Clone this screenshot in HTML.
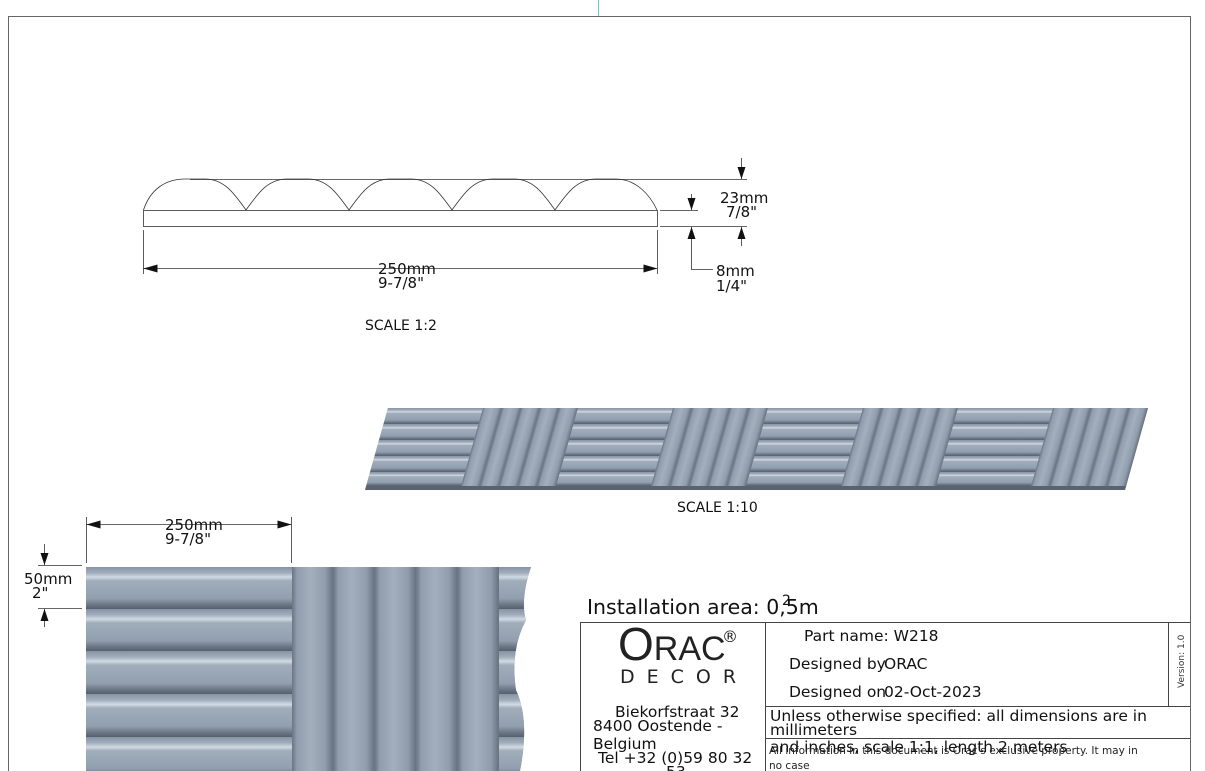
<!DOCTYPE html>
<html><head><meta charset="utf-8"><style>
html,body{margin:0;padding:0;background:#fff;}
svg{display:block;font-family:"DejaVu Sans","Liberation Sans",sans-serif;}
</style></head><body>
<svg width="1205" height="771" viewBox="0 0 1205 771" xmlns="http://www.w3.org/2000/svg">
<defs>
<linearGradient id="hr" x1="0" y1="0" x2="0" y2="1">
<stop offset="0" stop-color="#8794a4"/><stop offset="0.14" stop-color="#a0adbb"/><stop offset="0.24" stop-color="#d2dae3"/><stop offset="0.33" stop-color="#a0adbb"/><stop offset="0.75" stop-color="#929fae"/><stop offset="0.9" stop-color="#6b7684"/><stop offset="1" stop-color="#57616d"/>
</linearGradient>
<linearGradient id="vr" x1="0" y1="0" x2="1" y2="0">
<stop offset="0" stop-color="#6a7583"/><stop offset="0.12" stop-color="#909dad"/><stop offset="0.45" stop-color="#a3afbd"/><stop offset="0.8" stop-color="#909dac"/><stop offset="1" stop-color="#66717e"/>
</linearGradient>
<clipPath id="cw"><path d="M86,567 H531 Q520,600 526,620 Q510,650 516,690 Q530,720 520,771 H86 Z"/></clipPath>
</defs>

<line x1="598.5" y1="0" x2="598.5" y2="17" stroke="#6cc" stroke-width="1"/>
<path d="M8.5,771 V16.5 H1190.5 V771" fill="none" stroke="#666" stroke-width="1"/>

<g fill="none" stroke="#333" stroke-width="0.8">
<rect x="143.5" y="210.5" width="514" height="16"/>
<path d="M143.5,210 C150,190 165,179 185,179 L205,179 C225,179 235,195 246,210 C257,195 267,179 287,179 L308,179 C328,179 338,195 349,210 C360,195 370,179 390,179 L411,179 C431,179 441,195 452,210 C463,195 473,179 493,179 L514,179 C534,179 544,195 555,210 C566,195 576,179 596,179 L616,179 C636,179 650,195 657,210"/>
</g>
<g stroke="#333" stroke-width="0.8" fill="none">
<line x1="190" y1="179.5" x2="747" y2="179.5"/>
<line x1="660" y1="210.5" x2="698" y2="210.5"/>
<line x1="660" y1="226.5" x2="747" y2="226.5"/>
<line x1="741.5" y1="158" x2="741.5" y2="179"/>
<line x1="741.5" y1="227" x2="741.5" y2="246"/>
<line x1="691.5" y1="194" x2="691.5" y2="210"/>
<path d="M691.5,227 V269.5 H713"/>
<line x1="143.5" y1="230" x2="143.5" y2="274"/>
<line x1="657.5" y1="230" x2="657.5" y2="274"/>
<line x1="143" y1="268.5" x2="657" y2="268.5"/>
<line x1="86.5" y1="517" x2="86.5" y2="563"/>
<line x1="291.5" y1="517" x2="291.5" y2="563"/>
<line x1="86" y1="524.5" x2="291" y2="524.5"/>
<line x1="38" y1="565.5" x2="82" y2="565.5"/>
<line x1="38" y1="608.5" x2="82" y2="608.5"/>
<line x1="44.5" y1="544" x2="44.5" y2="565"/>
<line x1="44.5" y1="609" x2="44.5" y2="627"/>
</g>
<g fill="#111">
<path d="M741.5,179 l-4,-12 h8 z"/><path d="M741.5,227 l-4,12 h8 z"/>
<path d="M691.5,210 l-4,-12 h8 z"/><path d="M691.5,227 l-4,12 h8 z"/>
<path d="M143.5,268.5 l14,-4 v8 z"/><path d="M657.5,268.5 l-14,-4 v8 z"/>
<path d="M86.5,524.5 l14,-4 v8 z"/><path d="M291.5,524.5 l-14,-4 v8 z"/>
<path d="M44.5,565 l-4,-12 h8 z"/><path d="M44.5,609 l-4,12 h8 z"/>
</g>
<g font-size="15" fill="#111">
<text x="720" y="203">23mm</text><text x="726" y="217">7/8"</text>
<text x="716" y="276">8mm</text><text x="716" y="291">1/4"</text>
<text x="378" y="274">250mm</text><text x="378" y="288">9-7/8"</text>
<text x="165" y="530">250mm</text><text x="165" y="544">9-7/8"</text>
<text x="24" y="584">50mm</text><text x="32" y="598">2"</text>
</g>
<g font-size="14" fill="#111">
<text x="365" y="330">SCALE 1:2</text>
<text x="677" y="512">SCALE 1:10</text>
</g>

<g transform="translate(388,408) skewX(-15.66)">
<rect x="0" y="0" width="760" height="82" fill="#8e9bab"/>
<g id="per">
<rect x="0" y="0" width="95" height="16" fill="url(#hr)"/>
<rect x="0" y="16" width="95" height="16" fill="url(#hr)"/>
<rect x="0" y="32" width="95" height="16" fill="url(#hr)"/>
<rect x="0" y="48" width="95" height="16" fill="url(#hr)"/>
<rect x="0" y="64" width="95" height="14" fill="url(#hr)"/>
<rect x="95" y="0" width="19" height="78" fill="url(#vr)"/>
<rect x="114" y="0" width="19" height="78" fill="url(#vr)"/>
<rect x="133" y="0" width="19" height="78" fill="url(#vr)"/>
<rect x="152" y="0" width="19" height="78" fill="url(#vr)"/>
<rect x="171" y="0" width="19" height="78" fill="url(#vr)"/>
</g>
<use href="#per" x="190"/><use href="#per" x="380"/><use href="#per" x="570"/>
<rect x="0" y="78" width="760" height="4" fill="#59636f"/>
</g>

<g clip-path="url(#cw)">
<rect x="86" y="567" width="450" height="204" fill="#8e9bab"/>
<rect x="86" y="567" width="206" height="42" fill="url(#hr)"/>
<rect x="86" y="609" width="206" height="42" fill="url(#hr)"/>
<rect x="86" y="651" width="206" height="43" fill="url(#hr)"/>
<rect x="86" y="694" width="206" height="43" fill="url(#hr)"/>
<rect x="86" y="737" width="206" height="42" fill="url(#hr)"/>
<rect x="292" y="567" width="41.4" height="210" fill="url(#vr)"/>
<rect x="333.4" y="567" width="41.4" height="210" fill="url(#vr)"/>
<rect x="374.8" y="567" width="41.4" height="210" fill="url(#vr)"/>
<rect x="416.2" y="567" width="41.4" height="210" fill="url(#vr)"/>
<rect x="457.6" y="567" width="41.4" height="210" fill="url(#vr)"/>
<rect x="499" y="567" width="40" height="42" fill="url(#hr)"/>
<rect x="499" y="609" width="40" height="42" fill="url(#hr)"/>
<rect x="499" y="651" width="40" height="43" fill="url(#hr)"/>
<rect x="499" y="694" width="40" height="43" fill="url(#hr)"/>
<rect x="499" y="737" width="40" height="42" fill="url(#hr)"/>
</g>

<text x="587" y="614" font-size="20.5" fill="#111">Installation area: 0,5m</text>
<text x="782" y="605" font-size="14" fill="#111">2</text>
<g stroke="#444" stroke-width="1" fill="none">
<path d="M580.5,771 V622.5 H1190.5"/>
<line x1="765.5" y1="622" x2="765.5" y2="771"/>
<line x1="765" y1="706.5" x2="1190" y2="706.5"/>
<line x1="765" y1="738.5" x2="1190" y2="738.5"/>
<line x1="1168.5" y1="622" x2="1168.5" y2="706"/>
</g>
<text x="618" y="660" font-size="46" fill="#222" font-family="Liberation Sans,sans-serif">O<tspan font-size="34">RAC</tspan></text>
<text x="722" y="642" font-size="16" fill="#222">®</text>
<text x="620" y="683" font-size="19" fill="#222" letter-spacing="12">DECOR</text>
<g font-size="15.5" fill="#111">
<text x="804" y="641">Part name: W218</text>
<text x="789" y="669">Designed by</text><text x="884" y="669">ORAC</text>
<text x="789" y="697">Designed on</text><text x="884" y="697">02-Oct-2023</text>
<text x="770" y="721">Unless otherwise specified: all dimensions are in</text>
<text x="770" y="735">millimeters</text>
<text x="770" y="752">and inches, scale 1:1, length 2 meters</text>
<text x="615" y="717">Biekorfstraat 32</text>
<text x="593" y="731">8400 Oostende -</text>
<text x="593" y="749">Belgium</text>
<text x="598" y="763">Tel  +32 (0)59 80 32</text>
<text x="666" y="777">53</text>
</g>
<g font-size="10.5" fill="#222">
<text x="769" y="754">All information in this document is Orac's exclusive property.  It may in</text>
<text x="769" y="769">no case</text>
</g>
<text transform="translate(1184,688) rotate(-90)" font-size="9" fill="#333">Version: 1.0</text>
</svg>
</body></html>
